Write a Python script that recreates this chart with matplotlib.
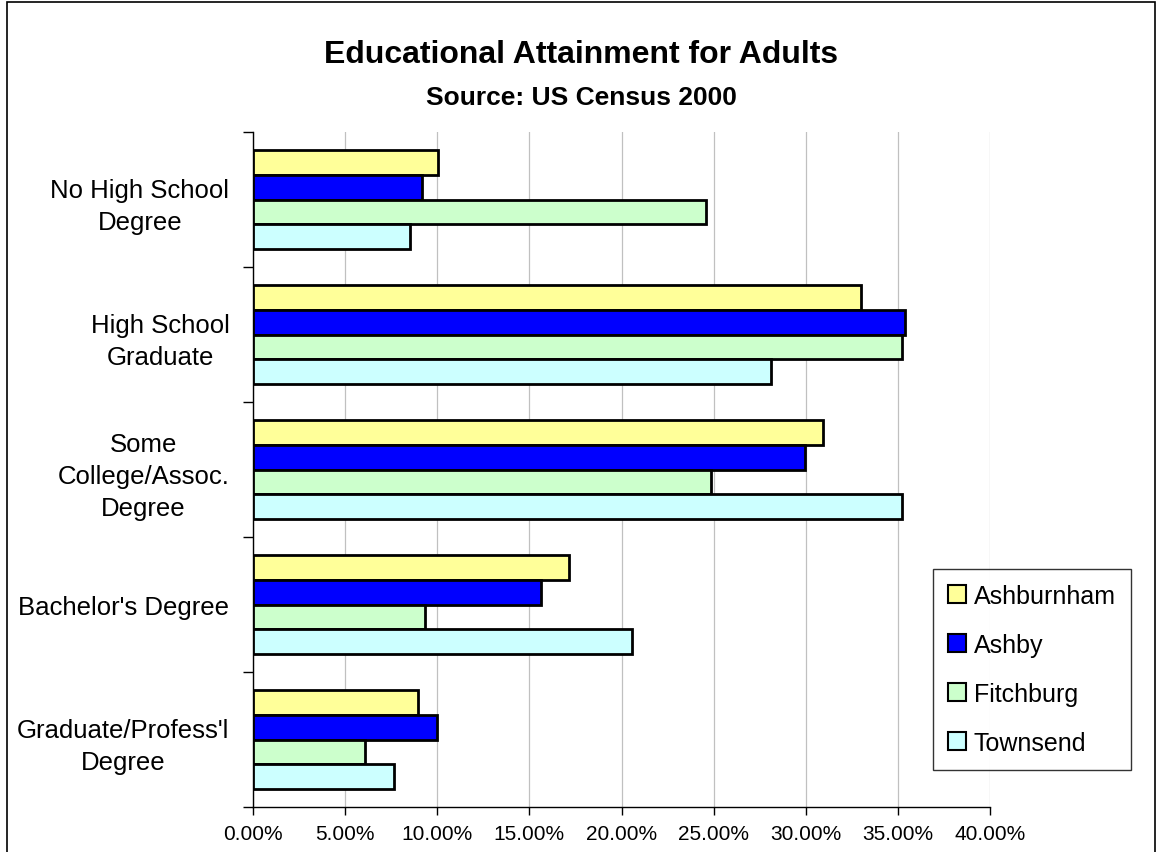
import matplotlib
matplotlib.use("Agg")
import matplotlib.pyplot as plt
from matplotlib.patches import Rectangle
from matplotlib.ticker import FuncFormatter, FixedLocator
import numpy as np

plt.rcParams['font.family'] = ['Liberation Sans', 'DejaVu Sans']

categories = ["No High School\nDegree", "High School\nGraduate",
              "Some\nCollege/Assoc.\nDegree", "Bachelor's Degree",
              "Graduate/Profess'l\nDegree"]
towns = ["Ashburnham", "Ashby", "Fitchburg", "Townsend"]
ashburnham = [10.05, 33.0, 30.94, 17.15, 8.98]
ashby = [9.15, 35.4, 29.97, 15.61, 9.97]
fitchburg = [24.6, 35.2, 24.85, 9.35, 6.06]
townsend = [8.52, 28.1, 35.25, 20.55, 7.67]
series = [ashburnham, ashby, fitchburg, townsend]
colors = ["#FFFF99", "#0000FF", "#CCFFCC", "#CCFFFF"]
xticks = [0, 5, 10, 15, 20, 25, 30, 35, 40]

W, H = 1162, 853
fig = plt.figure(figsize=(W / 100, H / 100), dpi=100)

# outer chart border
fig.patches.append(Rectangle((7 / W, -0.02), (1155 - 7) / W, 1 - 3 / H + 0.02,
                             transform=fig.transFigure, fill=False,
                             edgecolor="black", linewidth=1.2))

ax = fig.add_axes([253 / W, 1 - 808 / H, (990 - 253) / W, (808 - 133) / H])

y = np.arange(len(categories))
h = 1 / 5.5
for j, (vals, name, c) in enumerate(zip(series, towns, colors)):
    ax.barh(y + (j - 1.5) * h, vals, height=h, color=c, edgecolor="black",
            linewidth=2.0, label=name, zorder=3)

ax.set_xlim(0, 40)
ax.set_ylim(len(categories) - 0.5, -0.5)
ax.xaxis.set_major_locator(FixedLocator(xticks))
ax.xaxis.set_major_formatter(FuncFormatter(lambda v, p: "%.2f%%" % v))
ax.grid(axis="x", color="#C0C0C0", linewidth=0.9, zorder=0)

ax.set_yticks(y)
ax.set_yticklabels(categories, fontsize=18.5, linespacing=1.43,
                   multialignment="center")
ax.set_yticks(np.arange(-0.5, len(categories)), minor=True)
ax.tick_params(axis="y", which="major", length=0, pad=17)
ax.tick_params(axis="y", which="minor", length=7, width=1, color="black")
ax.tick_params(axis="x", length=6, width=1, pad=6, labelsize=15)

for s in ["top", "right"]:
    ax.spines[s].set_visible(False)
for s in ["left", "bottom"]:
    ax.spines[s].set_linewidth(1)

fig.text(0.5, 1 - 55 / H, "Educational Attainment for Adults", ha="center",
         va="center", fontsize=23, fontweight="bold")
fig.text(0.5, 1 - 98 / H, "Source: US Census 2000", ha="center",
         va="center", fontsize=19, fontweight="bold")

leg = fig.legend(loc="upper left", bbox_to_anchor=(933 / W, 1 - 570 / H),
                 fontsize=18, frameon=True, fancybox=False, shadow=False,
                 handlelength=0.72, handleheight=0.72, handletextpad=0.3,
                 labelspacing=1.0, borderpad=0.6, borderaxespad=0)
leg.get_frame().set_edgecolor("black")
leg.get_frame().set_linewidth(1)
for p in leg.get_patches():
    p.set_linewidth(1.5)

fig.savefig("out.png", dpi=100)
